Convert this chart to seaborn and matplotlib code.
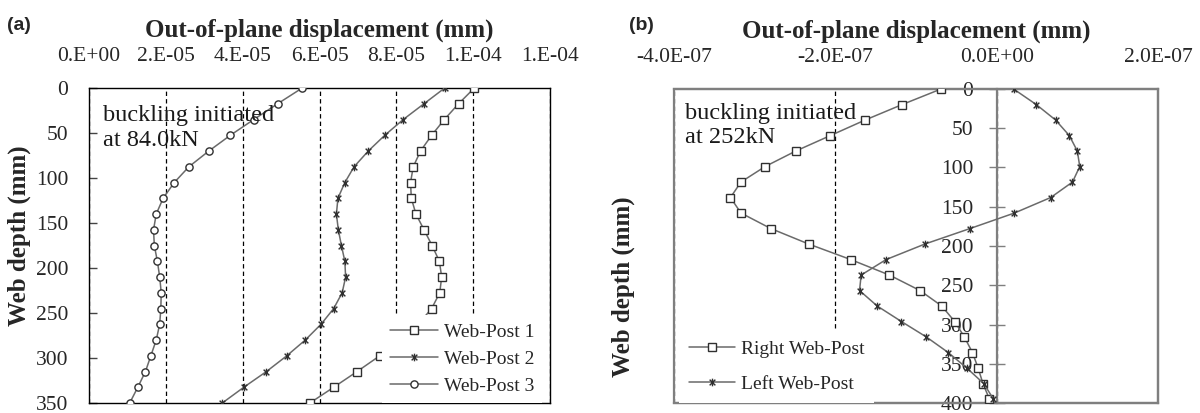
import numpy as np
import pandas as pd
import matplotlib
matplotlib.use("Agg")
import matplotlib.pyplot as plt
from matplotlib.path import Path
from matplotlib.patches import Rectangle
import seaborn as sns

# ---------------- data ----------------
# panel (a)
depth_a = [0, 17.5, 35, 52.5, 70, 87.5, 105, 122.5, 140, 157.5, 175,
           192.5, 210, 227.5, 245, 262.5, 280, 297.5, 315, 332.5, 350]
web_post_1 = [10.03e-5, 9.62e-5, 9.25e-5, 8.92e-5, 8.63e-5, 8.44e-5, 8.37e-5,
              8.39e-5, 8.51e-5, 8.72e-5, 8.93e-5, 9.12e-5, 9.18e-5, 9.13e-5,
              8.92e-5, 8.57e-5, 8.09e-5, 7.57e-5, 6.98e-5, 6.37e-5, 5.75e-5]
web_post_2 = [9.26e-5, 8.72e-5, 8.18e-5, 7.70e-5, 7.27e-5, 6.90e-5, 6.66e-5,
              6.48e-5, 6.44e-5, 6.49e-5, 6.57e-5, 6.66e-5, 6.68e-5, 6.59e-5,
              6.37e-5, 6.04e-5, 5.63e-5, 5.15e-5, 4.62e-5, 4.03e-5, 3.47e-5]
web_post_3 = [5.55e-5, 4.91e-5, 4.29e-5, 3.68e-5, 3.12e-5, 2.60e-5, 2.22e-5,
              1.93e-5, 1.75e-5, 1.68e-5, 1.70e-5, 1.78e-5, 1.84e-5, 1.88e-5,
              1.87e-5, 1.84e-5, 1.75e-5, 1.61e-5, 1.47e-5, 1.27e-5, 1.06e-5]
xticks_a = [0, 2e-5, 4e-5, 6e-5, 8e-5, 1e-4, 1.2e-4]
xlabels_a = ["0.E+00", "2.E-05", "4.E-05", "6.E-05", "8.E-05", "1.E-04", "1.E-04"]
yticks_a = [0, 50, 100, 150, 200, 250, 300, 350]

# panel (b)
depth_b = [0, 19.75, 39.5, 59.25, 79, 98.75, 118.5, 138.25, 158, 177.75, 197.5,
           217.25, 237, 256.75, 276.5, 296.25, 316, 335.75, 355.5, 375.25, 395]
right_web_post = [-0.69e-7, -1.17e-7, -1.63e-7, -2.06e-7, -2.49e-7, -2.87e-7,
                  -3.17e-7, -3.30e-7, -3.17e-7, -2.80e-7, -2.33e-7, -1.81e-7,
                  -1.33e-7, -0.95e-7, -0.68e-7, -0.52e-7, -0.40e-7, -0.30e-7,
                  -0.23e-7, -0.17e-7, -0.09e-7]
left_web_post = [0.21e-7, 0.49e-7, 0.73e-7, 0.90e-7, 1.00e-7, 1.03e-7, 0.94e-7,
                 0.67e-7, 0.22e-7, -0.33e-7, -0.89e-7, -1.37e-7, -1.68e-7,
                 -1.70e-7, -1.48e-7, -1.18e-7, -0.87e-7, -0.60e-7, -0.37e-7,
                 -0.16e-7, -0.04e-7]
xticks_b = [-4e-7, -2e-7, 0, 2e-7]
xlabels_b = ["-4.0E-07", "-2.0E-07", "0.0E+00", "2.0E-07"]
yticks_b = [0, 50, 100, 150, 200, 250, 300, 350, 400]

# ---------------- style ----------------
sns.set_theme(style="white")
plt.rcParams["font.family"] = ["Liberation Serif", "DejaVu Serif"]
plt.rcParams["axes.unicode_minus"] = False

LINE = "#6a6a6a"
EDGE = "#303030"
FRAME_B = "#7f7f7f"

star = Path([(0, -1), (0, 1), (-0.75, -0.75), (0.75, 0.75), (-0.75, 0.75), (0.75, -0.75)],
            [Path.MOVETO, Path.LINETO, Path.MOVETO, Path.LINETO, Path.MOVETO, Path.LINETO])

fig = plt.figure(figsize=(12, 4.13), dpi=100)
axA = fig.add_axes([89 / 1200, 10 / 413, 461 / 1200, 315 / 413])
axB = fig.add_axes([674 / 1200, 10 / 413, 484 / 1200, 314 / 413])


def draw(ax, x, y, label, marker, ms):
    df = pd.DataFrame({"x": x, "y": y})
    sns.lineplot(data=df, x="x", y="y", sort=False, estimator=None, ax=ax,
                 color=LINE, lw=1.1, marker=marker, markersize=ms,
                 markerfacecolor="white", markeredgecolor=EDGE,
                 markeredgewidth=1.0, label=label, zorder=3)


# ---------------- panel (a) ----------------
draw(axA, web_post_1, depth_a, "Web-Post 1", "s", 5.5)
draw(axA, web_post_2, depth_a, "Web-Post 2", star, 5.5)
draw(axA, web_post_3, depth_a, "Web-Post 3", "o", 5.2)

axA.set_xlim(0, 1.2e-4)
axA.set_ylim(350, 0)
axA.set_xticks(xticks_a)
axA.set_xticklabels(xlabels_a)
axA.xaxis.tick_top()
axA.xaxis.set_label_position("top")
axA.tick_params(axis="x", top=True, bottom=False, length=0, pad=16, labelsize=15.5)
axA.set_yticks(yticks_a)
axA.tick_params(axis="y", left=True, direction="in", length=6, width=1,
                color="#444444", pad=15, labelsize=15.5)
axA.set_axisbelow(True)
axA.grid(axis="x", linestyle=(0, (3.5, 2.5)), color="black", lw=0.9)
axA.grid(axis="y", visible=False)
for s in axA.spines.values():
    s.set_color("black")
    s.set_linewidth(1.0)
axA.set_xlabel("Out-of-plane displacement (mm)", fontsize=18, fontweight="bold", labelpad=7)
axA.set_ylabel("Web depth (mm)", fontsize=18, fontweight="bold")
axA.yaxis.set_label_coords(-0.126, 0.53)
axA.text(0.03, 0.945, "buckling initiated\nat 84.0kN", transform=axA.transAxes,
         fontsize=17.5, va="top", ha="left", linespacing=1.25, color="#1a1a1a", zorder=4)
legA = axA.legend(loc="lower left", bbox_to_anchor=(0.635, 0.0), frameon=True,
                  facecolor="white", edgecolor="none", framealpha=1, fontsize=14,
                  handlelength=2.5, handletextpad=0.3, labelspacing=0.5,
                  borderpad=0.4, borderaxespad=0.0, fancybox=False)
legA.set_zorder(5)

# ---------------- panel (b) ----------------
draw(axB, right_web_post, depth_b, "Right Web-Post", "s", 5.5)
draw(axB, left_web_post, depth_b, "Left Web-Post", star, 5.5)

axB.set_xlim(-4e-7, 2e-7)
axB.set_ylim(400, 0)
axB.set_xticks(xticks_b)
axB.set_xticklabels(xlabels_b)
axB.xaxis.tick_top()
axB.xaxis.set_label_position("top")
axB.tick_params(axis="x", top=True, bottom=False, length=0, pad=16, labelsize=15.5)
axB.set_yticks(yticks_b)
axB.spines["left"].set_position(("data", 0))
axB.tick_params(axis="y", left=True, direction="inout", length=12, width=1,
                color=FRAME_B, pad=11, labelsize=15.5)
axB.set_axisbelow(True)
axB.grid(axis="x", linestyle=(0, (3.5, 2.5)), color="black", lw=0.9)
axB.grid(axis="y", visible=False)
for s in axB.spines.values():
    s.set_color(FRAME_B)
    s.set_linewidth(1.6)
axB.add_patch(Rectangle((0, 0), 1, 1, transform=axB.transAxes, fill=False,
                        ec=FRAME_B, lw=1.6, zorder=2.5, clip_on=False))
axB.set_xlabel("Out-of-plane displacement (mm)", fontsize=18, fontweight="bold", labelpad=7)
axB.set_ylabel("Web depth (mm)", fontsize=18, fontweight="bold")
axB.yaxis.set_label_coords(-0.08, 0.37)
axB.text(0.023, 0.955, "buckling initiated\nat 252kN", transform=axB.transAxes,
         fontsize=17.5, va="top", ha="left", linespacing=1.2, color="#1a1a1a", zorder=4)
legB = axB.legend(loc="lower left", bbox_to_anchor=(0.01, 0.0), frameon=True,
                  facecolor="white", edgecolor="none", framealpha=1, fontsize=14,
                  handlelength=2.4, handletextpad=0.3, labelspacing=0.9,
                  borderpad=0.5, borderaxespad=0.0, fancybox=False)
legB.set_zorder(5)

# panel letters
fig.text(7 / 1200, 1 - 25 / 413, "(a)", family="Liberation Sans", fontweight="bold",
         fontsize=14, va="center", ha="left")
fig.text(629 / 1200, 1 - 25 / 413, "(b)", family="Liberation Sans", fontweight="bold",
         fontsize=14, va="center", ha="left")

fig.savefig("out.png", dpi=100)
